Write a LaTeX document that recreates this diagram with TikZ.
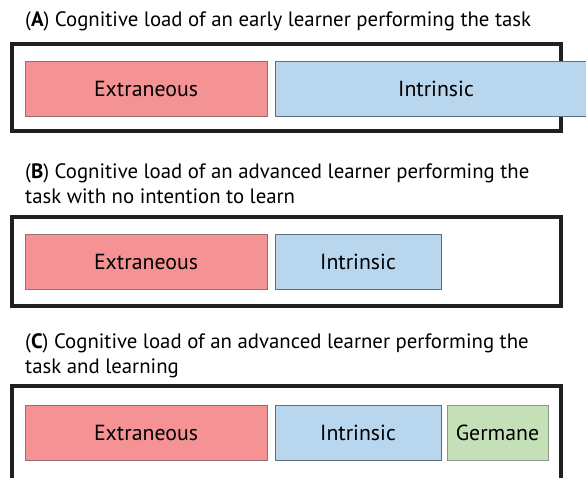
\documentclass[tikz,border=0pt]{standalone}
\usepackage{fontspec}
\setmainfont{PT Sans}
\usepackage{xcolor}
\usepackage{tikz}
\usetikzlibrary{positioning}

\definecolor{extfill}{RGB}{244,146,148}
\definecolor{extline}{RGB}{150,110,112}
\definecolor{intfill}{RGB}{184,214,238}
\definecolor{intline}{RGB}{92,110,128}
\definecolor{gerfill}{RGB}{195,224,183}
\definecolor{gerline}{RGB}{140,150,140}
\definecolor{framecol}{RGB}{35,31,32}

\tikzstyle{frame} = [draw=framecol, line width=4pt]
\tikzstyle{load} = [rectangle, minimum height=55pt, inner sep=0pt, line width=0.8pt, font=\fontsize{21.8}{25}\selectfont]
\tikzstyle{title} = [anchor=base west, inner sep=0pt, font=\fontsize{20.8}{25}\selectfont]

\begin{document}
\begin{tikzpicture}[x=1pt, y=-1pt]
\useasboundingbox (0,0) rectangle (586,477);
\clip (0,0) rectangle (586,477);

% (A) early learner
\node [title] (titleA) at (25,26) {(\textbf{A}) Cognitive load of an early learner performing the task};
\draw [frame] (12,44) rectangle (561,131);
\node [load, fill=extfill, draw=extline, minimum width=242pt] (extA) at (146,88.5) {Extraneous};
\node [load, fill=intfill, draw=intline, minimum width=322pt] (intA) at (436,88.5) {Intrinsic};

% (B) advanced learner, no intention to learn
\node [title] (titleB1) at (25,178) {(\textbf{B}) Cognitive load of an advanced learner performing the};
\node [title] (titleB2) at (25,203) {task with no intention to learn};
\draw [frame] (12,217) rectangle (561,306);
\node [load, fill=extfill, draw=extline, minimum width=242pt] (extB) at (146,261.5) {Extraneous};
\node [load, fill=intfill, draw=intline, minimum width=166pt] (intB) at (358,261.5) {Intrinsic};

% (C) advanced learner, learning
\node [title] (titleC1) at (25,348) {(\textbf{C}) Cognitive load of an advanced learner performing the};
\node [title] (titleC2) at (25,373) {task and learning};
\draw [frame] (12,386) rectangle (561,490);
\node [load, fill=extfill, draw=extline, minimum width=242pt] (extC) at (146,432.5) {Extraneous};
\node [load, fill=intfill, draw=intline, minimum width=166pt] (intC) at (358,432.5) {Intrinsic};
\node [load, fill=gerfill, draw=gerline, minimum width=101pt] (gerC) at (497.5,432.5) {Germane};
\end{tikzpicture}
\end{document}
